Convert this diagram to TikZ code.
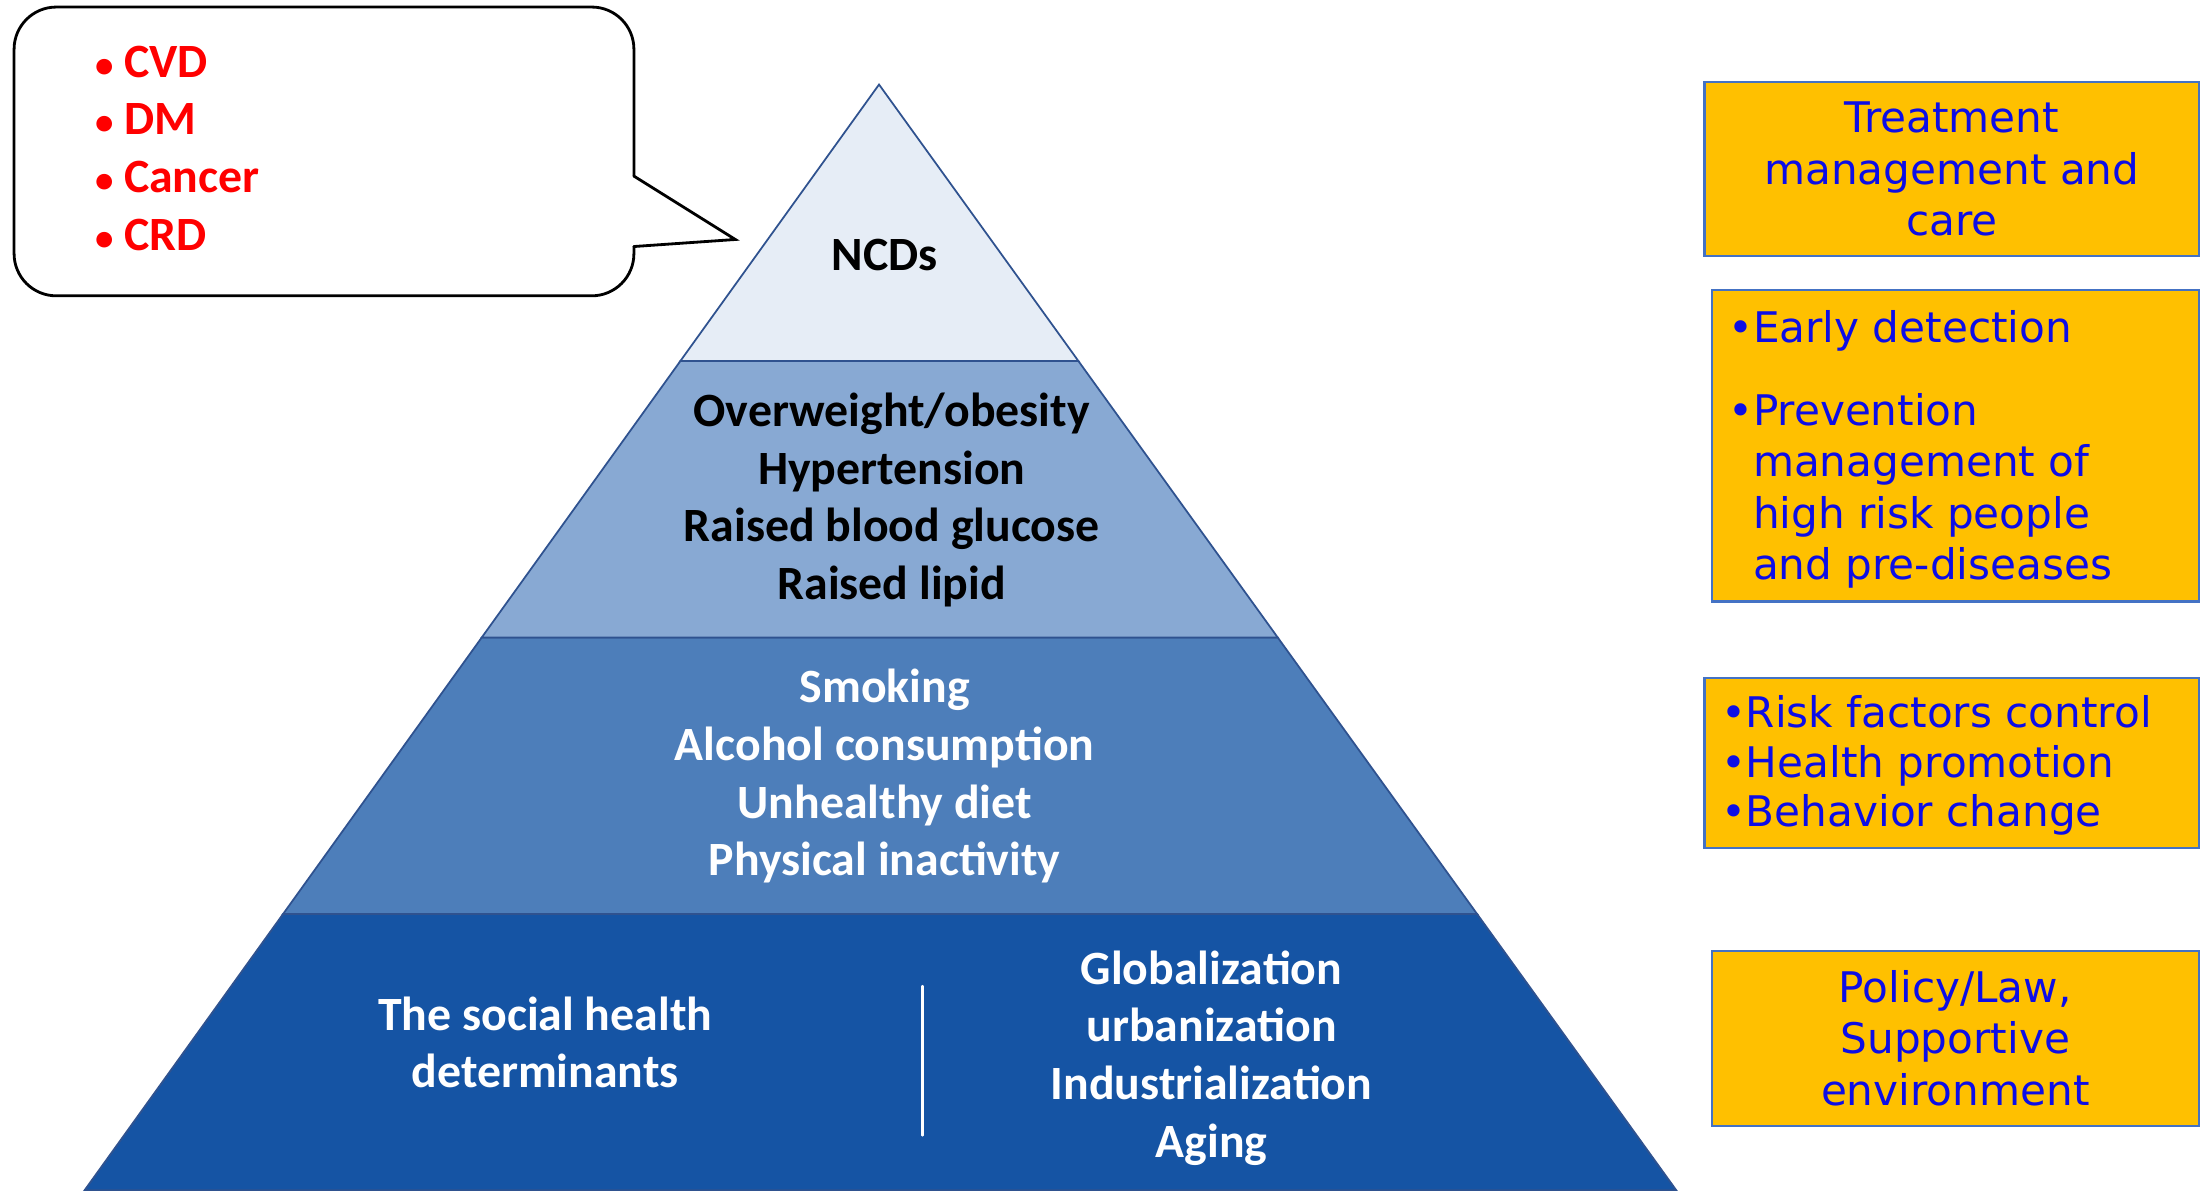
\documentclass[tikz,border=0pt]{standalone}
\usepackage{fontspec}
\setmainfont{Carlito}
\newfontfamily\boxfont{DejaVu Sans}
\usetikzlibrary{calc}

\begin{document}
\begin{tikzpicture}
			[x=0.1409mm,y=-0.1409mm,line cap=round,
			%Styles
			tier text/.style={font=\bfseries\fontsize{13.6}{16.4}\selectfont,align=center,inner sep=0pt},
			callout text/.style={font=\bfseries\fontsize{13.6}{16.4}\selectfont,text=calloutred,align=left,inner sep=0pt},
			action box/.style={draw=boxedge,fill=boxfill,line width=0.6pt,inner sep=0pt},
			box text/.style={font=\boxfont\fontsize{12}{14.6}\selectfont,text=boxblue,inner sep=0pt},
			tier edge/.style={draw=edgeblue,line width=0.5pt}
			]
			
			%Colors
			\definecolor{tierA}{HTML}{E6EDF6}
			\definecolor{tierB}{HTML}{88A9D3}
			\definecolor{tierC}{HTML}{4D7EBA}
			\definecolor{tierD}{HTML}{1554A4}
			\definecolor{edgeblue}{HTML}{2F528F}
			\definecolor{boxfill}{HTML}{FFC000}
			\definecolor{boxedge}{HTML}{4472C4}
			\definecolor{boxblue}{HTML}{0D0DE6}
			\definecolor{calloutred}{HTML}{FF0000}
			
			\useasboundingbox (0,0) rectangle (1566,845);
			
			%The graphic
			\coordinate (apex) at (624,60);
			\coordinate (bl) at (60,845);
			\coordinate (br) at (1190,845);
			\coordinate (l1) at ($(apex)!0.25!(bl)$);
			\coordinate (r1) at ($(apex)!0.25!(br)$);
			\coordinate (l2) at ($(apex)!0.5!(bl)$);
			\coordinate (r2) at ($(apex)!0.5!(br)$);
			\coordinate (l3) at ($(apex)!0.75!(bl)$);
			\coordinate (r3) at ($(apex)!0.75!(br)$);
			
			\path[tier edge,fill=tierD] (l3) -- (bl) -- (br) -- (r3) -- cycle;
			\path[tier edge,fill=tierC] (l2) -- (l3) -- (r3) -- (r2) -- cycle;
			\path[tier edge,fill=tierB] (l1) -- (l2) -- (r2) -- (r1) -- cycle;
			\path[tier edge,fill=tierA] (apex) -- (l1) -- (r1) -- cycle;
			
			\node[tier text] (ncd) at (628,181) {NCDs};
			\node[tier text] (inter) at (633,355) {Overweight/obesity\\Hypertension\\Raised blood glucose\\Raised lipid};
			\node[tier text,text=white] (behav) at (628,551) {Smoking\\Alcohol consumption\\Unhealthy diet\\Physical inactivity};
			\node[tier text,text=white] (social) at (387,740) {The social health\\determinants};
			\node[tier text,text=white] (global) at (860,751) {Globalization\\urbanization\\Industrialization\\Aging};
			\coordinate (divtop) at (655,700);
			\coordinate (divbot) at (655,806);
			\draw[white,line width=0.7pt] (divtop) -- (divbot);
			
			% speech bubble
			\coordinate (tip) at (522,170);
			\draw[line width=0.8pt,rounded corners=12pt] (450,175) -- (450,210) -- (10,210) -- (10,5) -- (450,5) -- (450,125);
			\draw[line width=0.8pt,line join=miter] (450,125) -- (tip) -- (450,175);
			\node[callout text,anchor=west] (ncdlist) at (67,108) {\begin{tabular}{@{}l@{\hspace{3pt}}l@{}}
				{\fontsize{10.5}{9}\selectfont•} & CVD\\
				{\fontsize{10.5}{9}\selectfont•} & DM\\
				{\fontsize{10.5}{9}\selectfont•} & Cancer\\
				{\fontsize{10.5}{9}\selectfont•} & CRD
			\end{tabular}};
			
			% action boxes
			\node[action box,minimum width=49.46mm,minimum height=17.47mm] (treat) at (1385.5,120) {};
			\node[box text,align=center] at (treat) {Treatment\\management and\\care};
			\node[action box,minimum width=48.75mm,minimum height=31.14mm] (detect) at (1388,316.5) {};
			\node[box text,anchor=north west] at ($(detect.north west)+(12,12)$) {\begin{tabular}{@{}l@{\hspace{0pt}}l@{}}
				• & Early detection\\[9pt]
				• & Prevention\\
				& management of\\
				& high risk people\\
				& and pre-diseases
			\end{tabular}};
			\node[action box,minimum width=49.46mm,minimum height=17.05mm] (risk) at (1385.5,541.5) {};
			\node[box text,anchor=west] at ($(risk.west)+(12,3)$) {\begin{tabular}{@{}l@{\hspace{0pt}}l@{}}
				• & Risk factors control\\[-0.5pt]
				• & Health promotion\\[-0.5pt]
				• & Behavior change
			\end{tabular}};
			\node[action box,minimum width=48.75mm,minimum height=17.47mm] (policy) at (1388,737) {};
			\node[box text,align=center] at (policy) {Policy/Law,\\Supportive\\environment};
		\end{tikzpicture}
\end{document}
